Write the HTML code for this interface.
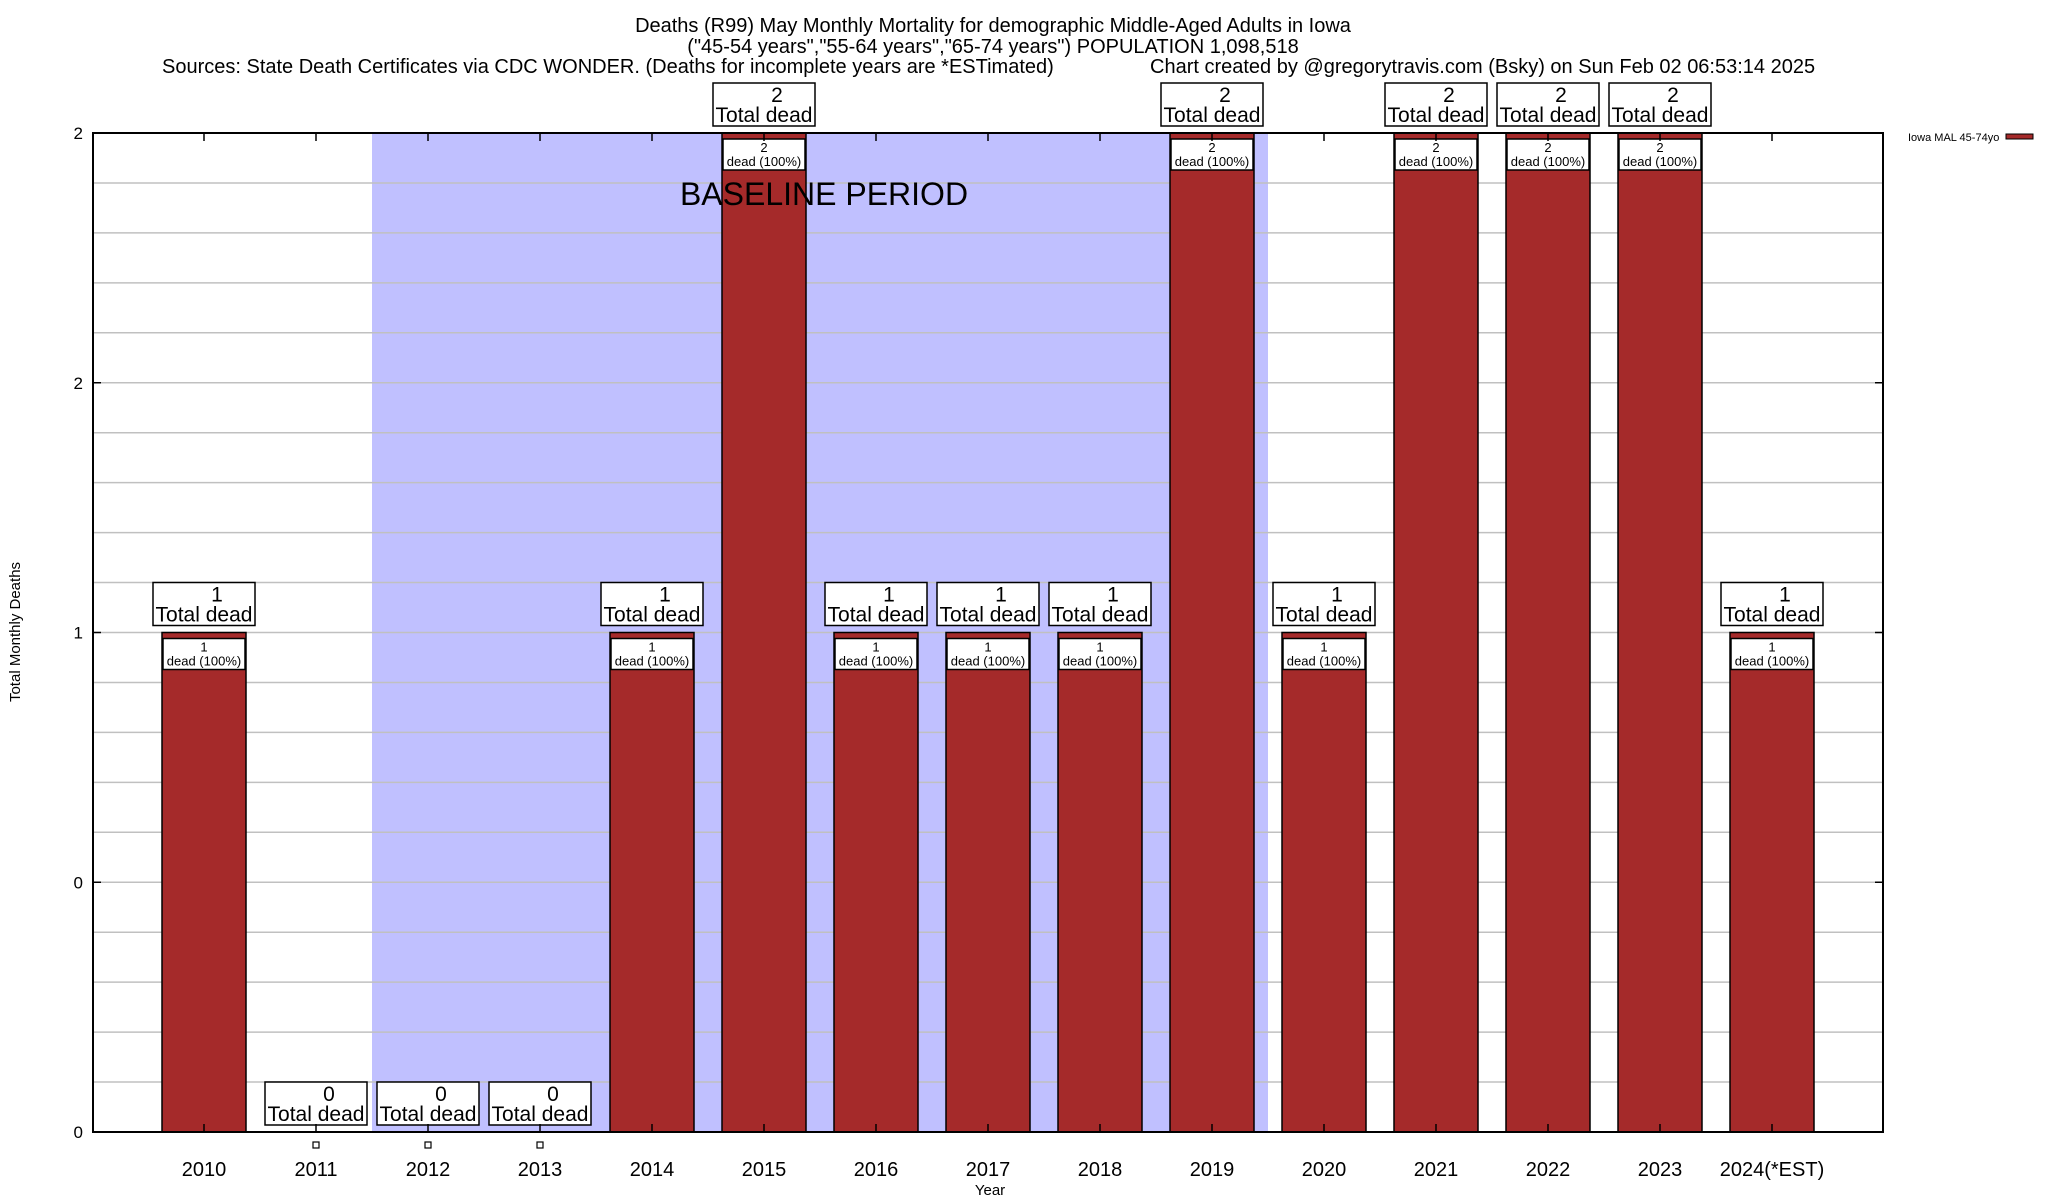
<!DOCTYPE html>
<html><head><meta charset="utf-8"><style>
html,body{margin:0;padding:0;background:#fff;width:2048px;height:1200px;overflow:hidden}
svg{display:block;font-family:"Liberation Sans",Arial,sans-serif}
</style></head><body>
<svg id="chart" width="2048" height="1200" viewBox="0 0 2048 1200">
<g font-size="20" fill="#000">
<text x="993" y="32" text-anchor="middle">Deaths (R99) May Monthly Mortality for demographic Middle-Aged Adults in Iowa</text>
<text x="993" y="53" text-anchor="middle">("45-54 years","55-64 years","65-74 years") POPULATION 1,098,518</text>
<text x="162" y="73">Sources: State Death Certificates via CDC WONDER. (Deaths for incomplete years are *ESTimated)</text>
<text x="1150" y="73">Chart created by @gregorytravis.com (Bsky) on Sun Feb 02 06:53:14 2025</text>
</g>
<g id="plot"></g>
</svg>
<script>
const categories = ["2010","2011","2012","2013","2014","2015","2016","2017","2018","2019","2020","2021","2022","2023","2024(*EST)"];
const deaths = [1,0,0,0,1,2,1,1,1,2,1,2,2,2,1];
const yTicks = [0,0.5,1,1.5,2];
const yTickLabels = ["0","0","1","2","2"];
const baselineStart = 1.5, baselineEnd = 9.5;

const L=93,R=1883,T=133,B=1132;
const x = i => 204 + i*112.0;
const y = v => B - (v/2)*(B-T);
const NS="http://www.w3.org/2000/svg";
const g=document.getElementById('plot');
function mk(tag,attrs,parent){const e=document.createElementNS(NS,tag);for(const k in attrs)e.setAttribute(k,attrs[k]);(parent||g).appendChild(e);return e;}

const sh=mk('rect',{x:x(baselineStart),y:T,width:x(baselineEnd)-x(baselineStart),height:B-T,fill:'#c0c0ff'});



for(let k=1;k<20;k++){
  const gl=mk('line',{x1:L,x2:R,y1:y(k/10),y2:y(k/10),stroke:'#c0c0c0','stroke-width':1.5});
  
  
}

categories.forEach((c,i)=>{
  const v=deaths[i];
  const cx=x(i);
  if(v>0){
    const b=mk('rect',{x:cx-42,y:y(v),width:84,height:B-y(v),fill:'#a52a2a',stroke:'#000','stroke-width':1.5});
    
    
    const ib=mk('rect',{x:cx-41,y:y(v)+6,width:82,height:31,fill:'#fff',stroke:'#000','stroke-width':1.5});
    
    
    const t1=mk('text',{x:cx,y:y(v)+19,'font-size':13,'text-anchor':'middle'});
    t1.textContent=v;
    
    
    const t2=mk('text',{x:cx,y:y(v)+33,'font-size':13,'text-anchor':'middle'});
    t2.textContent='dead (100%)';
    
    
  } else {
    const m=mk('rect',{x:cx-3,y:1142,width:6,height:6,fill:'#fff',stroke:'#000','stroke-width':1.2});
    
    
  }
  const top=y(v)-50;
  const ob=mk('rect',{x:cx-51,y:top,width:102,height:43,fill:'#fff',stroke:'#000','stroke-width':1.5});
  
  
  const n=mk('text',{x:cx+13,y:top+19,'font-size':21,'text-anchor':'middle'});
  n.textContent=v;
  
  
  const td=mk('text',{x:cx,y:top+39,'font-size':21,'text-anchor':'middle'});
  td.textContent='Total dead';
  
  
  const xl=mk('text',{x:cx,y:1176,'font-size':20,'text-anchor':'middle'});
  xl.textContent=c;
  
  
  const tk1=mk('line',{x1:cx,x2:cx,y1:B,y2:B-8,stroke:'#000','stroke-width':1.5});
  
  
  const tk2=mk('line',{x1:cx,x2:cx,y1:T,y2:T+8,stroke:'#000','stroke-width':1.5});
  
  
});

const bl=mk('text',{x:824,y:205,'font-size':32,'text-anchor':'middle'});
bl.textContent='BASELINE PERIOD';



yTicks.forEach((v,k)=>{
  const yl=mk('text',{x:83,y:y(v)+6,'font-size':17,'text-anchor':'end'});
  yl.textContent=yTickLabels[k];
  
  
  const a=mk('line',{x1:L,x2:L+8,y1:y(v),y2:y(v),stroke:'#000','stroke-width':1.5});
  
  
  const b=mk('line',{x1:R,x2:R-8,y1:y(v),y2:y(v),stroke:'#000','stroke-width':1.5});
  
  
});

const fr=mk('rect',{x:L,y:T,width:R-L,height:B-T,fill:'none',stroke:'#000','stroke-width':2});



const yt=mk('text',{x:0,y:0,'font-size':15,'text-anchor':'middle',transform:'translate(20,632) rotate(-90)'});
yt.textContent='Total Monthly Deaths';


const xt=mk('text',{x:990,y:1195,'font-size':15,'text-anchor':'middle'});
xt.textContent='Year';



const lg=mk('text',{x:1908,y:141,'font-size':11});
lg.textContent='Iowa MAL 45-74yo';


const ls=mk('rect',{x:2006,y:134,width:27,height:5,fill:'#a52a2a',stroke:'#000','stroke-width':1});


</script>
</body></html>
